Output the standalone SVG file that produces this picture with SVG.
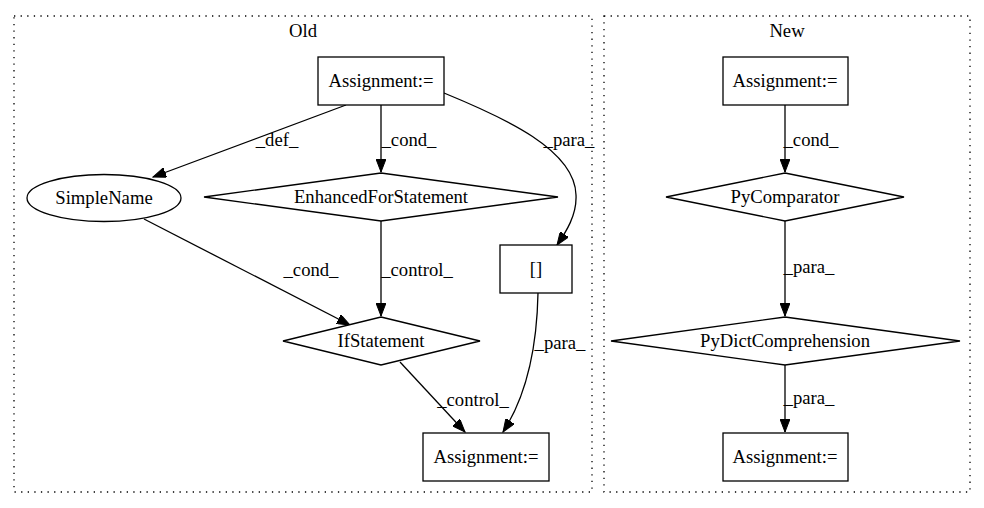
<svg xmlns="http://www.w3.org/2000/svg" width="984" height="508" viewBox="0 0 984 508" font-family="'Liberation Serif', 'DejaVu Serif', serif">
<style>
text{font-family:'Liberation Serif','DejaVu Serif',serif;font-size:18.67px;fill:#000;text-anchor:middle}
.cl{fill:none;stroke:#000;stroke-width:1.3;stroke-dasharray:1.3,5.3}
.n{fill:#fff;stroke:#000;stroke-width:1.3}
.e{fill:none;stroke:#000;stroke-width:1.3;marker-end:url(#ah)}
</style>
<defs>
<marker id="ah" markerUnits="userSpaceOnUse" markerWidth="14" markerHeight="10" viewBox="0 0 14 10" refX="13" refY="5" orient="auto">
<path d="M0,0 L13,5 L0,10 Z" fill="#000" stroke="#000" stroke-width="1"/>
</marker>
</defs>
<rect width="984" height="508" fill="#fff"/>
<g id="cluster_old"><rect class="cl" x="14" y="16" width="578" height="476"/><text x="303" y="37">Old</text></g>
<g id="cluster_new"><rect class="cl" x="604" y="16" width="366" height="476"/><text x="787" y="37">New</text></g>
<g id="edges">
<path class="e" d="M346,105 L153,177"/>
<text x="277" y="146">_def_</text>
<path class="e" d="M381,105 L381,172"/>
<text x="409" y="146">_cond_</text>
<path class="e" d="M444,93 C505,118 575,150 576,195 C577,215 566,232 557,245"/>
<text x="569" y="146">_para_</text>
<path class="e" d="M144,219 L350,325"/>
<text x="311" y="276">_cond_</text>
<path class="e" d="M381,221 L381,316"/>
<text x="417" y="276">_control_</text>
<path class="e" d="M400,362 L465,432"/>
<text x="473" y="406">_control_</text>
<path class="e" d="M538,293 C537,345 527,395 503,432"/>
<text x="560" y="349">_para_</text>
<path class="e" d="M785,105 L785,172"/>
<text x="811" y="146">_cond_</text>
<path class="e" d="M785,221 L785,316"/>
<text x="809" y="273">_para_</text>
<path class="e" d="M785,365 L785,432"/>
<text x="809" y="404">_para_</text>
</g>
<g id="old_assign1"><rect class="n" x="318" y="57" width="126" height="48"/><text x="381" y="87">Assignment:=</text></g>
<g id="old_simplename"><ellipse class="n" cx="104" cy="198" rx="77" ry="23.5"/><text x="104" y="204">SimpleName</text></g>
<g id="old_enhfor"><polygon class="n" points="381,173 558,197 381,221 204,197"/><text x="381" y="203">EnhancedForStatement</text></g>
<g id="old_bracket"><rect class="n" x="500" y="245" width="72" height="48"/><text x="536" y="275">[]</text></g>
<g id="old_if"><polygon class="n" points="381,317 480,341 381,365 283,341"/><text x="381" y="347">IfStatement</text></g>
<g id="old_assign2"><rect class="n" x="423" y="433" width="126" height="48"/><text x="486" y="463">Assignment:=</text></g>
<g id="new_assign1"><rect class="n" x="723" y="57" width="125" height="48"/><text x="785" y="87">Assignment:=</text></g>
<g id="new_pycomp"><polygon class="n" points="785,173 904,197 785,221 666,197"/><text x="785" y="203">PyComparator</text></g>
<g id="new_pydict"><polygon class="n" points="785,317 960,341 785,365 611,341"/><text x="785" y="347">PyDictComprehension</text></g>
<g id="new_assign2"><rect class="n" x="723" y="433" width="125" height="48"/><text x="785" y="463">Assignment:=</text></g>
</svg>
